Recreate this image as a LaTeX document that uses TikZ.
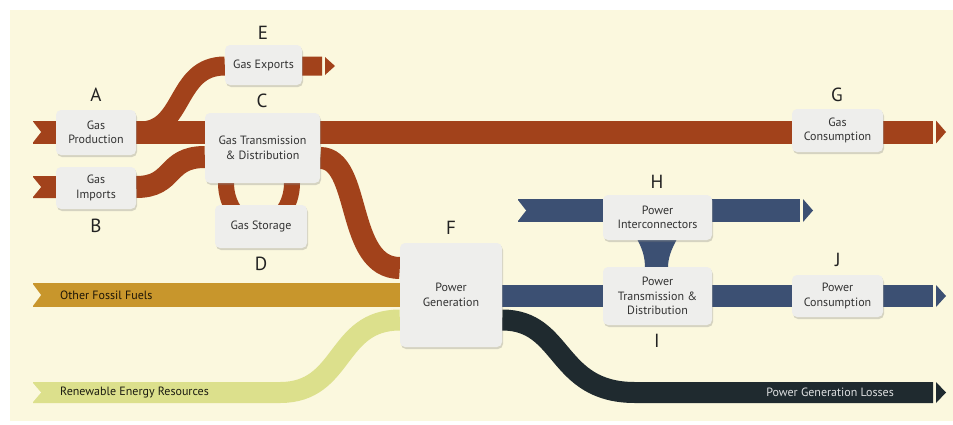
\documentclass[tikz,border=0pt]{standalone}
\usepackage{fontspec}
\setmainfont{PT Sans}
\usetikzlibrary{shadows}
\pgfdeclarelayer{bg}
\pgfdeclarelayer{bands}
\pgfsetlayers{bg,bands,main}
\definecolor{cream}{HTML}{FBF8DE}
\definecolor{rust}{HTML}{A2421B}
\definecolor{pblue}{HTML}{3C5073}
\definecolor{gold}{HTML}{C8962C}
\definecolor{lgreen}{HTML}{DCE08C}
\definecolor{darkband}{HTML}{1F2A2F}
\definecolor{boxgray}{HTML}{EEEEEC}
\definecolor{boxtext}{HTML}{333333}
\definecolor{lettercol}{HTML}{222222}
\newcommand\flownotch[2]{\fill[cream,shift={(#1)}] (-1,-#2) -- (8,0) -- (-1,#2) -- cycle;}
\newcommand\flowtip[3]{\fill[#2,shift={(#1)}] (3,-#3) -- (13,0) -- (3,#3) -- cycle;}
\tikzset{
  box/.style={fill=boxgray, rounded corners=5pt, align=center, inner sep=0pt,
    font=\fontsize{12}{14.5}\selectfont, text=boxtext,
    drop shadow={opacity=0.3, shadow xshift=1pt, shadow yshift=-2pt}},
  letter/.style={font=\fontsize{19}{21}\selectfont, text=lettercol},
  band/.style={line width=#1},
  bandlabel/.style={font=\fontsize{12}{14}\selectfont, anchor=west, inner sep=0pt},
}
\begin{document}
\begin{tikzpicture}[x=1pt,y=-1pt]
\useasboundingbox (0,0) rectangle (953,424);
\begin{pgfonlayer}{bg}
\fill[white] (0,0) rectangle (953,424);
\fill[cream] (10,10) rectangle (953,421);
\end{pgfonlayer}

% boxes
\path
  (96,132.5)   node[box, minimum width=80, minimum height=45] (A) {Gas\\Production}
  (96,188)     node[box, minimum width=80, minimum height=42] (B) {Gas\\Imports}
  (262.5,148)  node[box, minimum width=115, minimum height=70] (C) {Gas Transmission\\\& Distribution}
  (261,226.5)  node[box, minimum width=92, minimum height=43] (D) {Gas Storage}
  (263.5,65)   node[box, minimum width=77, minimum height=40] (E) {Gas Exports}
  (451,295)    node[box, minimum width=102, minimum height=104] (F) {Power\\Generation}
  (837.5,130.5) node[box, minimum width=91, minimum height=43] (G) {Gas\\Consumption}
  (657.5,217.5) node[box, minimum width=109, minimum height=45] (H) {Power\\Interconnectors}
  (657.5,296)  node[box, minimum width=109, minimum height=58] (I) {Power\\Transmission \&\\Distribution}
  (837.5,296)  node[box, minimum width=91, minimum height=42] (J) {Power\\Consumption};

% free ends
\coordinate (gasin) at (33,132);
\coordinate (gasout) at (933,132);
\coordinate (impin) at (33,187);
\coordinate (expout) at (322,66);
\coordinate (fosin) at (33,295);
\coordinate (renin) at (33,392.5);
\coordinate (hin) at (518,210.5);
\coordinate (hout) at (800,210.5);
\coordinate (powout) at (933,296);
\coordinate (lossout) at (933,392.5);

\begin{pgfonlayer}{bands}
% gas
\draw[rust, band=23] (gasin) -- (A.west |- gasin) (A.east |- gasin) -- (C.west |- gasin) (C.east |- gasin) -- (G.west |- gasin) (G.east |- gasin) -- (gasout);
\draw[rust, band=22] (impin) -- (B.west |- impin) (B.east |- impin) .. controls (175,187) and (165,157) .. (C.west |- 0,157);
\draw[rust, band=19] (140,131) .. controls (185,131) and (175,66) .. (E.west |- expout) (E.east |- expout) -- (expout);
\draw[rust, band=22] (C.east |- 0,158) .. controls (362,158) and (345,268) .. (F.west |- 0,268);
\draw[rust, band=16] (259,183) ellipse [x radius=33, y radius=42];
% other fuels
\draw[gold, band=24] (fosin) -- (F.west |- fosin);
\draw[lgreen, band=21] (renin) -- (280,392.5) .. controls (345,392.5) and (335,320) .. (F.west |- 0,320);
% power
\draw[pblue, band=22] (F.east |- powout) -- (I.west |- powout) (I.east |- powout) -- (J.west |- powout) (J.east |- powout) -- (powout);
\draw[pblue, band=23] (hin) -- (H.west |- hin) (H.east |- hin) -- (hout);
\fill[pblue] (637,239) .. controls (643,250) and (645,258) .. (645,268) -- (668,268) .. controls (668,258) and (671,250) .. (677,239) -- cycle;
\draw[darkband, band=21] (F.east |- 0,320) .. controls (565,320) and (555,392.5) .. (635,392.5) -- (lossout);
% notches and tips
\flownotch{gasin}{11.5}
\flownotch{impin}{11}
\flownotch{fosin}{12}
\flownotch{renin}{10.5}
\flownotch{hin}{11.5}
\flowtip{gasout}{rust}{11.5}
\flowtip{expout}{rust}{9}
\flowtip{hout}{pblue}{11.5}
\flowtip{powout}{pblue}{11}
\flowtip{lossout}{darkband}{10.5}
\end{pgfonlayer}

% band labels
\node[bandlabel, text=black!85!gold] (fosl) at (60,295) {Other Fossil Fuels};
\node[bandlabel, text=black!88!lgreen] (renl) at (60,392.5) {Renewable Energy Resources};
\node[bandlabel, anchor=east, text=white!85!darkband] (lossl) at (894,392.5) {Power Generation Losses};

% letters
\node[letter] (la) at (96,95) {A};
\node[letter] (lb) at (96,226) {B};
\node[letter] (lc) at (262,101) {C};
\node[letter] (ld) at (261,264) {D};
\node[letter] (le) at (263,33) {E};
\node[letter] (lf) at (451,228) {F};
\node[letter] (lg) at (837,95) {G};
\node[letter] (lh) at (657,182) {H};
\node[letter] (li) at (657,341) {I};
\node[letter] (lj) at (838,260) {J};
\end{tikzpicture}
\end{document}
